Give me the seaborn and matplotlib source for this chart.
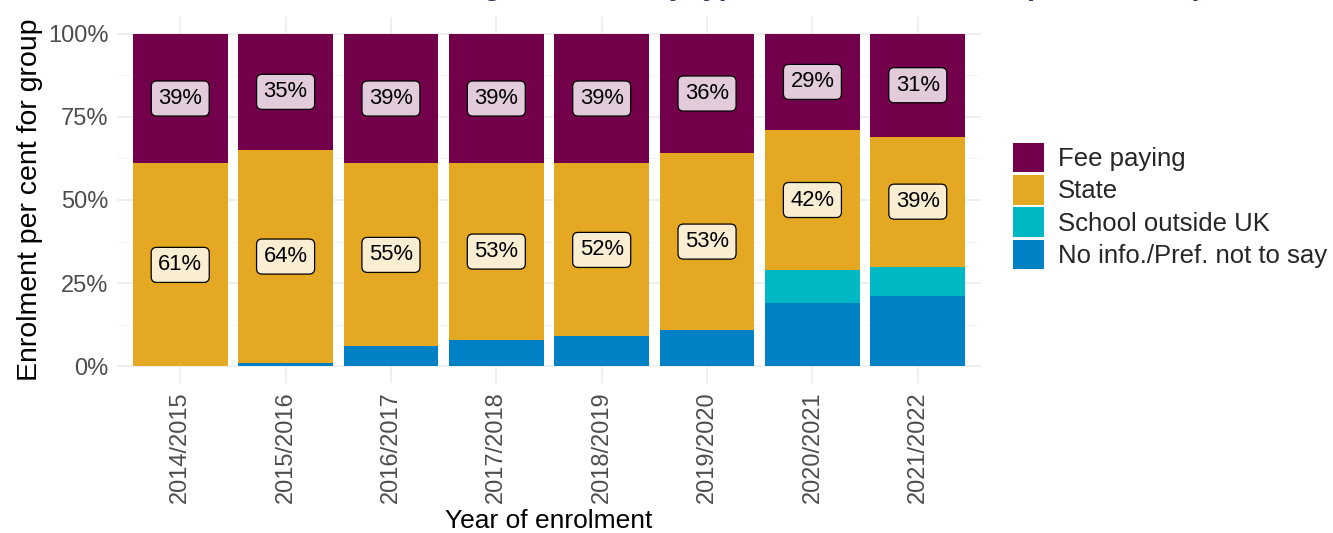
import numpy as np
import pandas as pd
import matplotlib
matplotlib.use("Agg")
import matplotlib.pyplot as plt
import seaborn as sns
from matplotlib.patches import Patch
from matplotlib.ticker import FixedLocator, FuncFormatter

# Enrolment share by school type, per academic year (per cent)
years = ["2014/2015", "2015/2016", "2016/2017", "2017/2018",
         "2018/2019", "2019/2020", "2020/2021", "2021/2022"]
fee_paying = [39, 35, 39, 39, 39, 36, 29, 31]
state = [61, 64, 55, 53, 52, 53, 42, 39]
outside_uk = [0, 0, 0, 0, 0, 0, 10, 9]
no_info = [0, 1, 6, 8, 9, 11, 19, 21]

legend_order = ["Fee paying", "State", "School outside UK", "No info./Pref. not to say"]
palette = {
    "Fee paying": "#73004A",
    "State": "#E5A823",
    "School outside UK": "#00B8C4",
    "No info./Pref. not to say": "#0081C6",
}
labelled = {"Fee paying", "State"}

sns.set_theme(style="whitegrid")
plt.rcParams["font.family"] = ["Liberation Sans", "DejaVu Sans"]

fig = plt.figure(figsize=(13.33, 5.33), dpi=100)
fig.patch.set_facecolor("white")
ax = fig.add_axes([117 / 1333, 1 - 383 / 533, 864 / 1333, 366 / 533])
ax.set_facecolor("white")

# stacking order from the bottom up
layers = [
    ("No info./Pref. not to say", no_info),
    ("School outside UK", outside_uk),
    ("State", state),
    ("Fee paying", fee_paying),
]

base = np.zeros(len(years))
for name, vals in layers:
    frac = np.array(vals, dtype=float) / 100
    sns.barplot(x=years, y=frac, order=years, color=palette[name], saturation=1,
                width=0.9, errorbar=None, linewidth=0, bottom=base, ax=ax)
    if name in labelled:
        for i, v in enumerate(vals):
            ax.text(i, base[i] + frac[i] / 2, f"{v}%", ha="center", va="center",
                    fontsize=15.8, color="black", zorder=5,
                    bbox=dict(boxstyle="round,pad=0.32,rounding_size=0.25",
                              fc=(1, 1, 1, 0.8), ec="black", lw=0.9))
    base = base + frac

ax.set_xlim(-0.6, len(years) - 0.4)
ax.set_ylim(-0.05, 1.05)

ax.yaxis.set_major_locator(FixedLocator([0, 0.25, 0.5, 0.75, 1.0]))
ax.yaxis.set_minor_locator(FixedLocator([0.125, 0.375, 0.625, 0.875]))
ax.yaxis.set_major_formatter(FuncFormatter(lambda v, p: f"{v * 100:.0f}%"))

ax.grid(which="major", color="#ebebeb", linewidth=1.1)
ax.grid(which="minor", axis="y", color="#f3f3f3", linewidth=0.6)
ax.set_axisbelow(True)
for s in ax.spines.values():
    s.set_visible(False)

ax.tick_params(axis="both", which="major", length=3, width=1, color="#333333",
               labelcolor="#4d4d4d", labelsize=17, pad=3)
ax.tick_params(axis="both", which="minor", length=0)
plt.setp(ax.get_xticklabels(), rotation=90, ha="center", va="top")

ax.set_xlabel("Year of enrolment", fontsize=19, color="black")
ax.set_ylabel("Enrolment per cent for group", fontsize=20.5, color="black")
ax.xaxis.set_label_coords(0.5, -0.343)
ax.yaxis.set_label_coords(-0.086, 0.5)

handles = [Patch(facecolor=palette[n], edgecolor="none", label=n) for n in legend_order]
fig.legend(handles=handles, loc="upper left", bbox_to_anchor=(1013 / 1333, 1 - 143 / 533),
           frameon=False, fontsize=18.5, handlelength=1.2, handleheight=1.38,
           labelspacing=0.11, handletextpad=0.55, borderpad=0, borderaxespad=0)

fig.text(362 / 1333, 1 + 5 / 533,
         "Percentage of intake by type of school attended (2014 \u2013 2022)",
         fontsize=20.7, fontweight="bold", color="#3d2b63", ha="left", va="baseline")

fig.savefig("out.png", dpi=100, facecolor="white")
